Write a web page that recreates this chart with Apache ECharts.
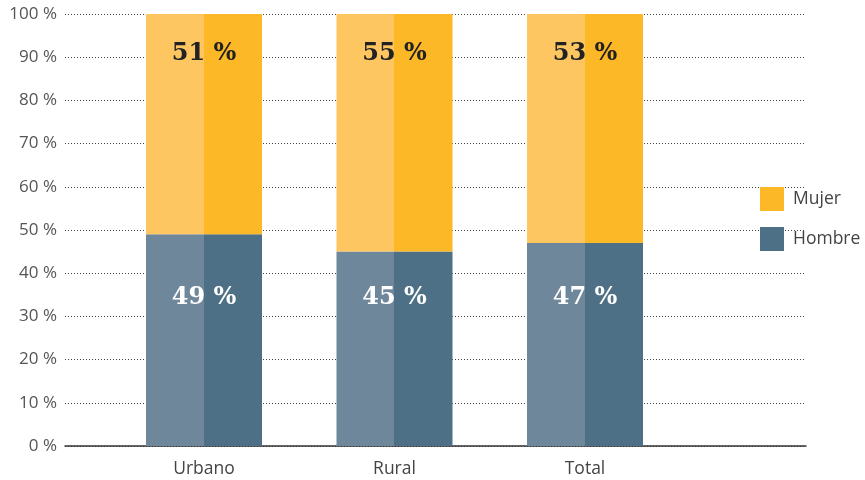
<!DOCTYPE html>
<html><head><meta charset="utf-8">
<script src="https://cdn.jsdelivr.net/npm/echarts@6/dist/echarts.min.js"></script>
<style>html,body{margin:0;padding:0;background:#fff}#c{width:865px;height:480px}</style>
</head><body><div id="c"></div>
<script>
const categories = ['Urbano', 'Rural', 'Total'];
const hombre = [49, 45, 47];
const mujer = [51, 55, 53];
const yTicks = [0, 10, 20, 30, 40, 50, 60, 70, 80, 90, 100];

const chart = echarts.init(document.getElementById('c'));
function split(light, dark) {
  return { type: 'linear', x: 0, y: 0, x2: 1, y2: 0, colorStops: [
    { offset: 0, color: light }, { offset: 0.5, color: light },
    { offset: 0.5, color: dark }, { offset: 1, color: dark }] };
}
const HOMBRE_LABEL_Y = 34.3, MUJER_LABEL_Y = 90.8;
const labelFont = { fontFamily: 'DejaVu Serif', fontWeight: 'bold', fontSize: 24, textBorderWidth: 0, opacity: 1 };
const sansFont = 'Open Sans';
chart.setOption({
  animation: false,
  legend: {
    orient: 'vertical', left: 760, top: 187, padding: 0, itemWidth: 24, itemHeight: 24, itemGap: 16,
    icon: 'rect',
    textStyle: { fontFamily: sansFont, fontSize: 17.5, color: '#444', padding: [2, 0, 0, 4] },
    data: [{ name: 'Mujer', itemStyle: { color: '#FDB827' } }, { name: 'Hombre', itemStyle: { color: '#4E7086' } }]
  },
  grid: [
    { left: 65, right: 59, top: 14, bottom: 34 },
    { left: 108.75, right: 184.75, top: 14, bottom: 34 }
  ],
  xAxis: [
    { gridIndex: 0, type: 'value', min: 0, max: 1, axisLine: { show: true, lineStyle: { color: '#333', width: 1.5 } },
      axisTick: { show: false }, axisLabel: { show: false }, splitLine: { show: false } },
    { gridIndex: 1, type: 'category', data: categories, axisLine: { show: false }, axisTick: { show: false },
      axisLabel: { fontFamily: sansFont, fontSize: 17.5, color: '#444', margin: 14 } }
  ],
  yAxis: [
    { gridIndex: 0, type: 'value', min: 0, max: 100, interval: 10, data: yTicks,
      axisLine: { show: false }, axisTick: { show: false },
      axisLabel: { formatter: '{value} %', fontFamily: sansFont, fontSize: 17, color: '#555', margin: 8 },
      splitLine: { show: true, lineStyle: { color: '#444', type: [1, 2], width: 1 } } },
    { gridIndex: 1, type: 'value', min: 0, max: 100, show: false, splitLine: { show: false } }
  ],
  series: [
    { name: 'Hombre', type: 'bar', stack: 's', xAxisIndex: 1, yAxisIndex: 1, barWidth: 116,
      data: hombre, itemStyle: { color: split('#6F879A', '#4E7086') } },
    { name: 'Mujer', type: 'bar', stack: 's', xAxisIndex: 1, yAxisIndex: 1, barWidth: 116,
      data: mujer, itemStyle: { color: split('#FEC661', '#FDB827') } },
    { type: 'scatter', xAxisIndex: 1, yAxisIndex: 1, symbolSize: 0, silent: true, z: 5,
      itemStyle: { opacity: 1 },
      data: hombre.map((v, i) => [i, HOMBRE_LABEL_Y, v]),
      label: { show: true, position: 'inside', formatter: p => p.value[2] + ' %', color: '#ffffff', ...labelFont } },
    { type: 'scatter', xAxisIndex: 1, yAxisIndex: 1, symbolSize: 0, silent: true, z: 5,
      itemStyle: { opacity: 1 },
      data: mujer.map((v, i) => [i, MUJER_LABEL_Y, v]),
      label: { show: true, position: 'inside', formatter: p => p.value[2] + ' %', color: '#222222', ...labelFont } }
  ]
});
</script></body></html>
